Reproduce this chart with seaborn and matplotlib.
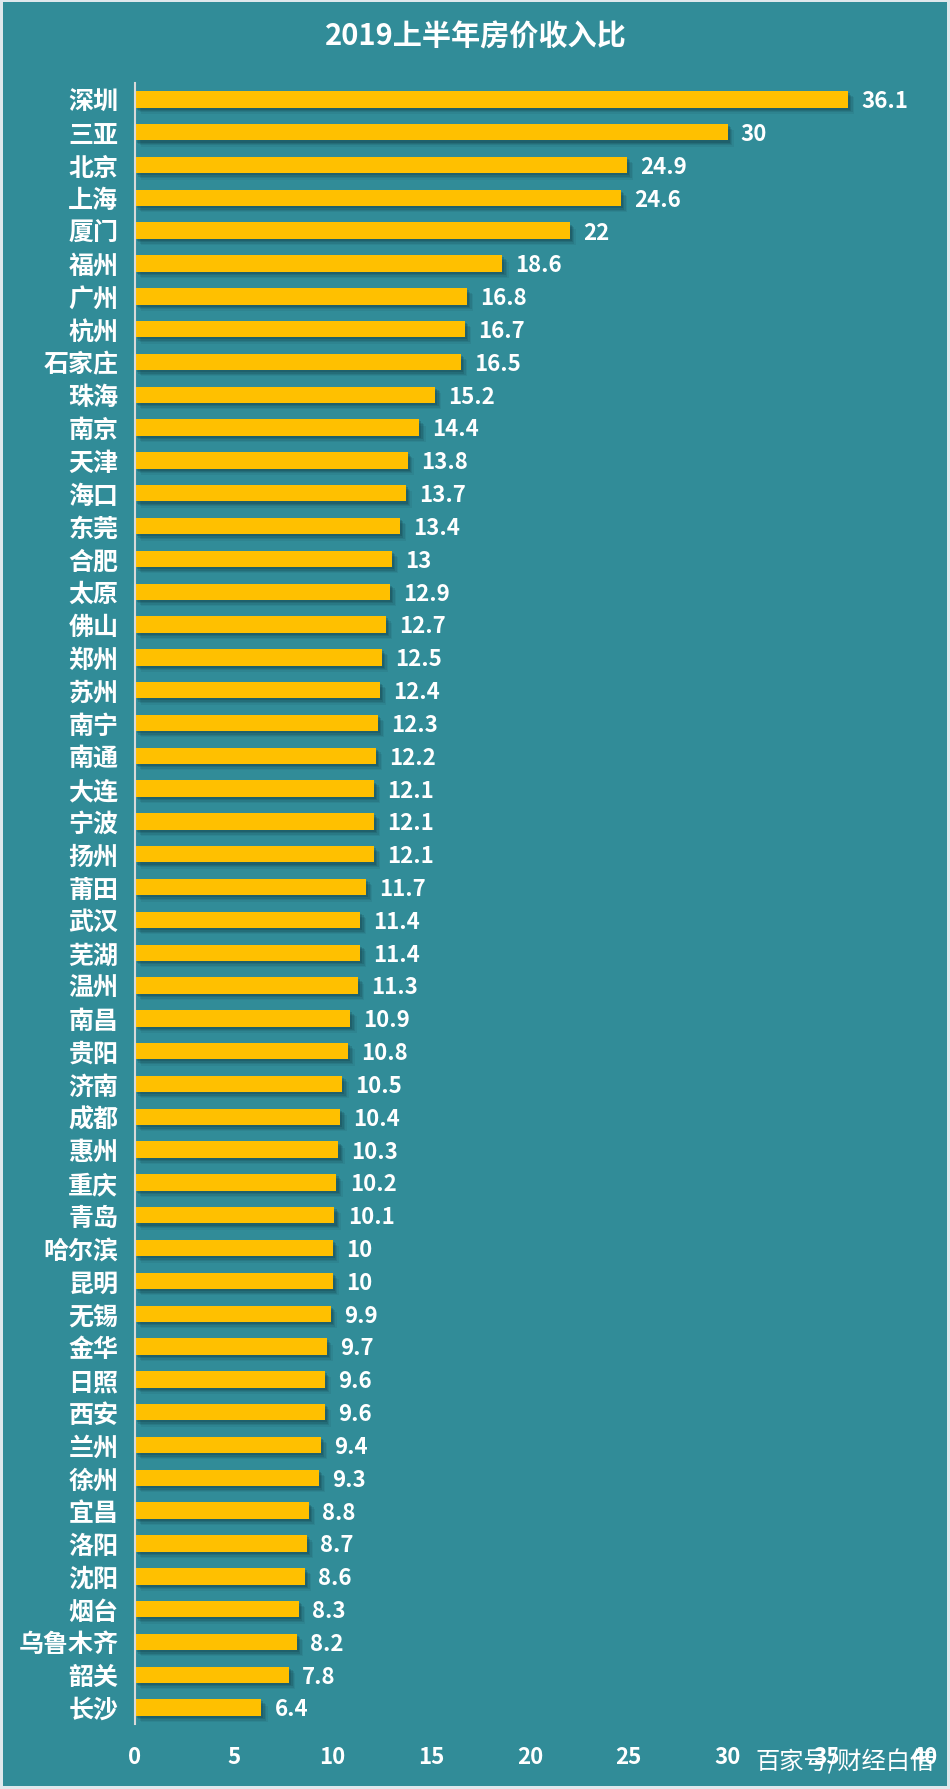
import matplotlib
matplotlib.use('Agg')
import matplotlib.pyplot as plt
import matplotlib.patheffects as pe
import pandas as pd
import seaborn as sns

cities = ['深圳', '三亚', '北京', '上海', '厦门', '福州', '广州', '杭州', '石家庄', '珠海',
          '南京', '天津', '海口', '东莞', '合肥', '太原', '佛山', '郑州', '苏州', '南宁',
          '南通', '大连', '宁波', '扬州', '莆田', '武汉', '芜湖', '温州', '南昌', '贵阳',
          '济南', '成都', '惠州', '重庆', '青岛', '哈尔滨', '昆明', '无锡', '金华', '日照',
          '西安', '兰州', '徐州', '宜昌', '洛阳', '沈阳', '烟台', '乌鲁木齐', '韶关', '长沙']
ratios = [36.1, 30, 24.9, 24.6, 22, 18.6, 16.8, 16.7, 16.5, 15.2,
          14.4, 13.8, 13.7, 13.4, 13, 12.9, 12.7, 12.5, 12.4, 12.3,
          12.2, 12.1, 12.1, 12.1, 11.7, 11.4, 11.4, 11.3, 10.9, 10.8,
          10.5, 10.4, 10.3, 10.2, 10.1, 10, 10, 9.9, 9.7, 9.6,
          9.6, 9.4, 9.3, 8.8, 8.7, 8.6, 8.3, 8.2, 7.8, 6.4]
xticks = [0, 5, 10, 15, 20, 25, 30, 35, 40]

df = pd.DataFrame({'city': cities, 'ratio': ratios})

teal = '#318c98'
sns.set_style('white')
plt.rcParams['font.family'] = ['Noto Sans CJK SC', 'DejaVu Sans']

W, H = 950, 1790
fig = plt.figure(figsize=(W / 100, H / 100), dpi=100,
                 facecolor=teal, edgecolor='#dfe8ec', linewidth=2.9)
ax = fig.add_axes([135 / W, 1 - 1725 / H, (925 - 135) / W, (1725 - 84) / H])

sns.barplot(data=df, y='city', x='ratio', color='#ffc000', saturation=1, width=0.5,
            edgecolor='none', linewidth=0, ax=ax)

# soft shadow under the bars
shadow = [pe.SimplePatchShadow(offset=(o, -o), shadow_rgbFace='#0c2f38', alpha=a)
          for o, a in ((4.5, 0.08), (3.5, 0.12), (2.5, 0.16), (1.5, 0.2))]
for bar in ax.patches:
    bar.set_path_effects(shadow + [pe.Normal()])

for y, v in enumerate(ratios):
    ax.annotate(f'{v:g}', (v, y), xytext=(9.5, -1), textcoords='offset points',
                va='center', ha='left', color='white', fontsize=16, fontweight='bold')

ax.set_facecolor('none')
ax.set_xlim(0, 40)
ax.set_ylim(49.5, -0.5)
ax.set_xticks(xticks)
ax.set_xlabel('')
ax.set_ylabel('')
ax.tick_params(axis='y', length=0, pad=12, labelsize=18, labelcolor='white')
ax.tick_params(axis='x', length=0, pad=15, labelsize=16, labelcolor='white')
for lab in ax.get_yticklabels() + ax.get_xticklabels():
    lab.set_fontweight('bold')

sns.despine(ax=ax, bottom=True)
ax.spines['left'].set_color('#d9d9d9')
ax.spines['left'].set_linewidth(1.5)

fig.text(476 / W, 1 - 37 / H, '2019上半年房价收入比', color='white', fontsize=21,
         fontweight='bold', ha='center', va='center')
fig.text(845 / W, 1 - 1763 / H, '百家号/财经白借', color='white', fontsize=17.5,
         ha='center', va='center')

plt.savefig('out.png', dpi=100)
